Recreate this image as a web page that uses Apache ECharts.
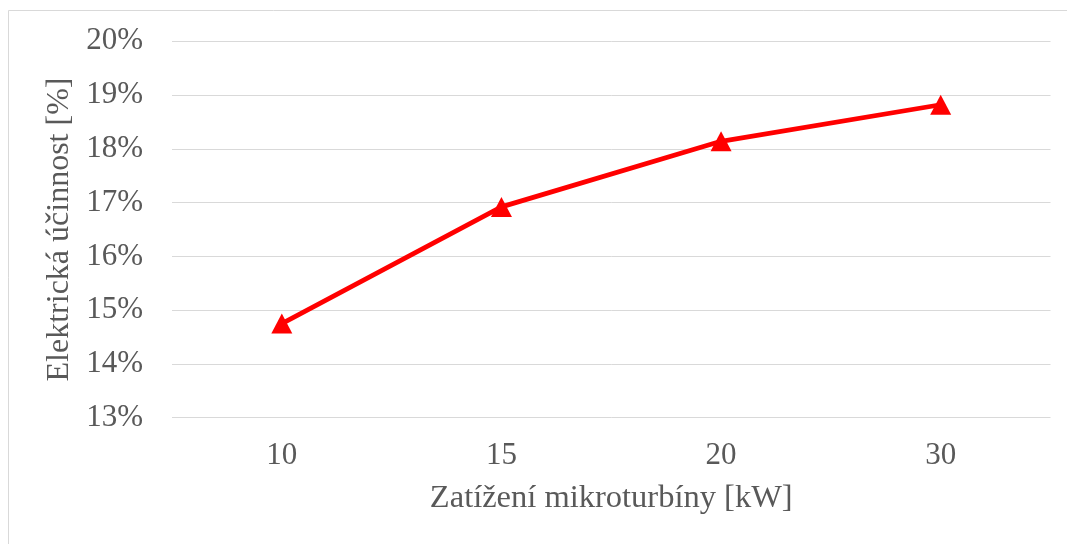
<!DOCTYPE html>
<html>
<head>
<meta charset="utf-8">
<script src="https://cdn.jsdelivr.net/npm/echarts@6/dist/echarts.min.js"></script>
<style>
html,body{margin:0;padding:0;background:#fff;}
#chart{width:1067px;height:544px;}
</style>
</head>
<body>
<div id="chart"></div>
<script>
const categories = ['10', '15', '20', '30'];
const efficiency = [14.75, 16.92, 18.14, 18.82];
const yTicks = { min: 13, max: 20, interval: 1 };
const xTitle = 'Zatížení mikroturbíny [kW]';
const yTitle = 'Elektrická účinnost [%]';

const font = '"Liberation Serif", "Times New Roman", serif';
const chart = echarts.init(document.getElementById('chart'), null, { renderer: 'canvas' });
chart.setOption({
  animation: false,
  backgroundColor: '#ffffff',
  graphic: [{
    type: 'rect',
    shape: { x: 8.5, y: 10.5, width: 1200, height: 700 },
    style: { fill: 'none', stroke: '#d9d9d9', lineWidth: 1 },
    silent: true
  }],
  grid: { left: 172, right: 16.5, top: 41.3, bottom: 126.3, containLabel: false },
  xAxis: {
    type: 'category',
    data: categories,
    boundaryGap: true,
    axisLine: { show: false },
    axisTick: { show: false },
    axisLabel: { color: '#595959', fontFamily: font, fontSize: 31, margin: 23 },
    name: xTitle,
    nameLocation: 'middle',
    nameGap: 64,
    nameTextStyle: { color: '#595959', fontFamily: font, fontSize: 32.5 }
  },
  yAxis: {
    type: 'value',
    min: yTicks.min,
    max: yTicks.max,
    interval: yTicks.interval,
    axisLine: { show: false },
    axisTick: { show: false },
    splitLine: { lineStyle: { color: '#d9d9d9', width: 1 } },
    axisLabel: { color: '#595959', fontFamily: font, fontSize: 31, margin: 29, formatter: '{value}%' },
    name: yTitle,
    nameLocation: 'middle',
    nameGap: 90,
    nameTextStyle: { color: '#595959', fontFamily: font, fontSize: 32 }
  },
  series: [{
    type: 'line',
    data: efficiency,
    symbol: 'triangle',
    symbolSize: [21, 20],
    showAllSymbol: true,
    lineStyle: { color: '#ff0000', width: 4.8 },
    itemStyle: { color: '#ff0000' }
  }]
});
</script>
</body>
</html>
